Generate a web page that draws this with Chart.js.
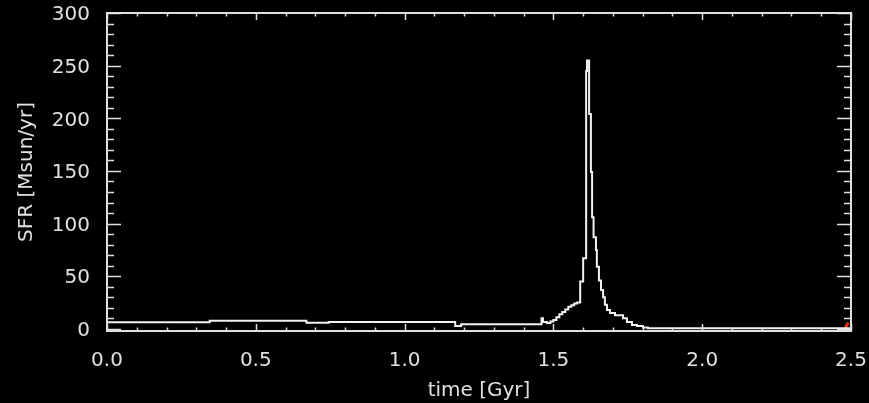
<!DOCTYPE html>
<html>
<head>
<meta charset="utf-8">
<script src="https://cdn.jsdelivr.net/npm/chart.js@4/dist/chart.umd.min.js"></script>
<style>
html, body { margin: 0; padding: 0; background: #000; }
#wrap { width: 869px; height: 403px; position: relative; }
</style>
</head>
<body>
<div id="wrap"><canvas id="c"></canvas></div>
<script>
// bin start times [Gyr] and star formation rate [Msun/yr]
const timeGyr = [
    0.00, 0.345, 0.67, 0.745, 1.17, 1.19, 1.46, 1.465, 1.478, 1.49,
    1.50, 1.51, 1.52, 1.53, 1.54, 1.55, 1.56, 1.57, 1.58, 1.59,
    1.600, 1.610, 1.613, 1.620, 1.626, 1.630, 1.635, 1.643, 1.646, 1.653,
    1.660, 1.667, 1.673, 1.680, 1.690, 1.707, 1.734, 1.747, 1.764, 1.781,
    1.801, 1.818, 1.875, 2.00, 2.50
];
const sfr = [
    3.3, 6.3, 7.8, 5.9, 6.5, 2.8, 4.5, 10, 6.5, 5.5,
    7, 8.5, 11, 14, 16, 18.5, 21, 22.5, 24, 25,
    45, 67, 245, 255, 204, 149, 106, 87, 75, 59,
    46, 37, 30, 23, 18, 15, 13, 10, 6.5, 3.8,
    2.8, 1.4, 0.6, 0.5, 0.5
];
const markerTime = [2.478, 2.49];
const markerSfr = [-1, 6];

const xTicks = [0, 0.5, 1.0, 1.5, 2.0, 2.5];
const yTicks = [0, 50, 100, 150, 200, 250, 300];

const fg = '#e0e0e0';
const labelFont = { family: 'DejaVu Sans', size: 20 };

// IDL-style box with inward ticks on all four sides
const frame = {
    id: 'frame',
    afterDatasetsDraw(chart) {
        const { ctx, chartArea: a, scales: { x, y } } = chart;
        ctx.save();
        ctx.strokeStyle = fg;
        ctx.lineWidth = 2;
        ctx.strokeRect(a.left, a.top, a.right - a.left, a.bottom - a.top);
        ctx.lineWidth = 1.5;
        ctx.beginPath();
        for (let i = 0; i <= 25; i++) {
            const px = Math.round(x.getPixelForValue(i / 10)) + 0.5;
            const len = i % 5 === 0 ? 7 : 3.5;
            ctx.moveTo(px, a.bottom); ctx.lineTo(px, a.bottom - len);
            ctx.moveTo(px, a.top); ctx.lineTo(px, a.top + len);
        }
        for (let v = 0; v <= 300; v += 10) {
            const py = Math.round(y.getPixelForValue(v)) + 0.5;
            const len = v % 50 === 0 ? 14 : 7;
            ctx.moveTo(a.left, py); ctx.lineTo(a.left + len, py);
            ctx.moveTo(a.right, py); ctx.lineTo(a.right - len, py);
        }
        ctx.stroke();
        ctx.restore();
    }
};

new Chart(document.getElementById('c'), {
    type: 'line',
    data: {
        datasets: [
            {
                data: timeGyr.map((t, i) => ({ x: t, y: sfr[i] })),
                borderColor: '#f2f2f2',
                borderWidth: 2,
                stepped: 'after',
                pointRadius: 0,
                fill: false,
            },
            {
                data: markerTime.map((t, i) => ({ x: t, y: markerSfr[i] })),
                borderColor: '#ff2a10',
                borderWidth: 3,
                pointRadius: 0,
                fill: false,
            },
        ],
    },
    options: {
        responsive: true,
        maintainAspectRatio: false,
        animation: false,
        layout: { padding: { top: 13, right: 18, left: 0, bottom: 0 } },
        plugins: { legend: { display: false }, tooltip: { enabled: false } },
        scales: {
            x: {
                type: 'linear',
                min: 0,
                max: 2.5,
                grid: { display: false },
                border: { display: false },
                afterBuildTicks: (s) => { s.ticks = xTicks.map(v => ({ value: v })); },
                afterFit: (s) => { s.height = 72; s.paddingLeft = 0; s.paddingRight = 0; },
                ticks: {
                    color: fg,
                    font: labelFont,
                    padding: 10,
                    maxRotation: 0,
                    callback: (v) => Number(v).toFixed(1),
                },
                title: {
                    display: true,
                    text: 'time [Gyr]',
                    color: fg,
                    font: labelFont,
                    padding: { top: 2, bottom: 0 },
                },
            },
            y: {
                type: 'linear',
                min: -2,
                max: 300,
                grid: { display: false },
                border: { display: false },
                afterBuildTicks: (s) => { s.ticks = yTicks.map(v => ({ value: v })); },
                afterFit: (s) => { s.width = 107; s.paddingTop = 0; s.paddingBottom = 0; },
                ticks: {
                    color: fg,
                    font: labelFont,
                    padding: 9,
                    labelOffset: 2,
                },
                title: {
                    display: true,
                    text: 'SFR [Msun/yr]',
                    color: fg,
                    font: labelFont,
                    padding: { top: 15, bottom: 0 },
                },
            },
        },
    },
    plugins: [frame],
});
</script>
</body>
</html>
